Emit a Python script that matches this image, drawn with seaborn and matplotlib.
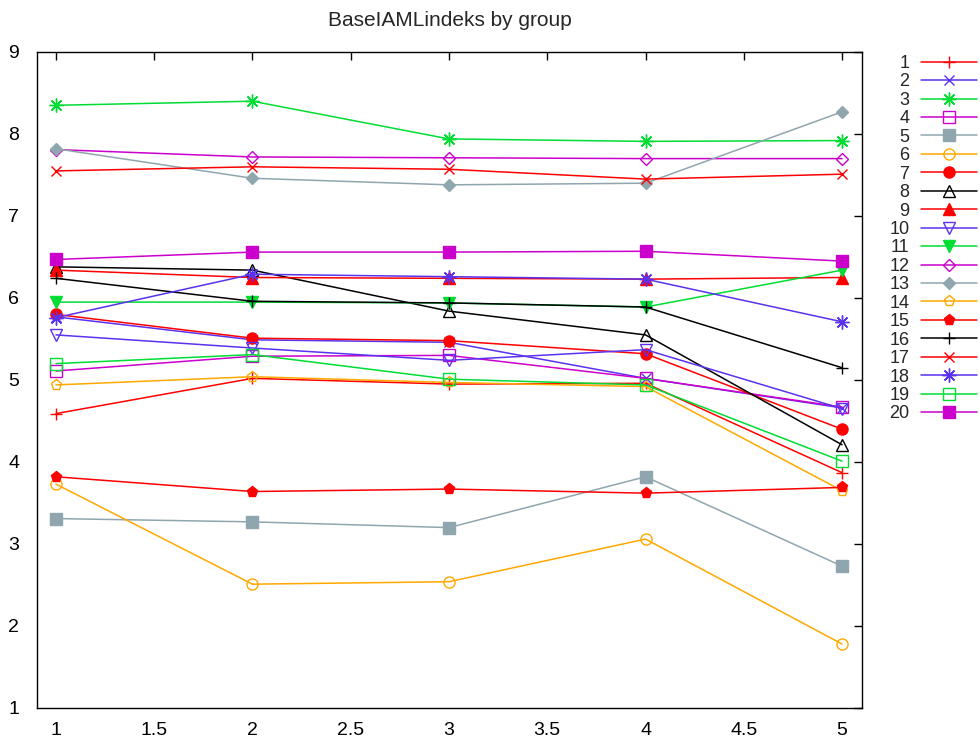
import matplotlib
matplotlib.use("Agg")
import matplotlib.pyplot as plt
import seaborn as sns
import pandas as pd

# ---- data ----
x_points = [1, 2, 3, 4, 5]
group_names = [str(i) for i in range(1, 21)]
g1 = [4.59, 5.02, 4.95, 4.96, 3.87]
g2 = [5.77, 5.49, 5.46, 5.02, 4.66]
g3 = [8.35, 8.40, 7.94, 7.91, 7.92]
g4 = [5.11, 5.29, 5.30, 5.02, 4.67]
g5 = [3.31, 3.27, 3.20, 3.82, 2.73]
g6 = [3.73, 2.51, 2.54, 3.06, 1.78]
g7 = [5.80, 5.51, 5.48, 5.32, 4.40]
g8 = [6.38, 6.34, 5.84, 5.55, 4.21]
g9 = [6.34, 6.25, 6.24, 6.23, 6.25]
g10 = [5.55, 5.39, 5.24, 5.37, 4.65]
g11 = [5.95, 5.95, 5.94, 5.89, 6.34]
g12 = [7.81, 7.72, 7.71, 7.70, 7.70]
g13 = [7.82, 7.46, 7.38, 7.40, 8.27]
g14 = [4.94, 5.04, 4.97, 4.92, 3.65]
g15 = [3.82, 3.64, 3.67, 3.62, 3.69]
g16 = [6.24, 5.96, 5.94, 5.89, 5.15]
g17 = [7.55, 7.60, 7.57, 7.45, 7.51]
g18 = [5.76, 6.29, 6.26, 6.23, 5.71]
g19 = [5.20, 5.31, 5.01, 4.94, 4.01]
g20 = [6.47, 6.56, 6.56, 6.57, 6.45]
series_values = [g1, g2, g3, g4, g5, g6, g7, g8, g9, g10,
                 g11, g12, g13, g14, g15, g16, g17, g18, g19, g20]
x_tick_values = [1, 1.5, 2, 2.5, 3, 3.5, 4, 4.5, 5]
x_tick_labels = ["1", "1.5", "2", "2.5", "3", "3.5", "4", "4.5", "5"]
y_tick_values = [1, 2, 3, 4, 5, 6, 7, 8, 9]
title_text = "BaseIAMLindeks by group"

# ---- styles ----
RED, BLUE, GREEN, MAG, GRAY, ORANGE, BLACK = (
    "#ff0000", "#5a32f0", "#00dd33", "#cc00cc", "#8fa6ae", "#ffa800", "#000000")
color_cycle = [RED, BLUE, GREEN, MAG, GRAY, ORANGE, RED, BLACK]
asterisk = (8, 2, 0)
marker_styles = [
    ("+", "full", 9), ("x", "full", 7), (asterisk, "full", 10), ("s", "none", 8),
    ("s", "full", 8), ("o", "none", 8), ("o", "full", 8), ("^", "none", 8),
    ("^", "full", 8), ("v", "none", 8), ("v", "full", 8), ("D", "none", 6),
    ("D", "full", 6), ("p", "none", 8), ("p", "full", 8), ("+", "full", 9),
    ("x", "full", 7), (asterisk, "full", 10), ("s", "none", 8), ("s", "full", 8),
]

rows = []
for name, vals in zip(group_names, series_values):
    for xv, yv in zip(x_points, vals):
        rows.append({"x": xv, "value": yv, "group": name})
df = pd.DataFrame(rows)

sns.set_style("white")
plt.rcParams["font.family"] = ["Liberation Sans", "DejaVu Sans"]

fig = plt.figure(figsize=(9.8, 7.42), dpi=100)
ax = fig.add_axes([37.3 / 980, 1 - 708 / 742, (861.7 - 37.3) / 980, (708 - 52) / 742])

for i, name in enumerate(group_names):
    col = color_cycle[i % 8]
    mk, fs, ms = marker_styles[i]
    sub = df[df["group"] == name]
    sns.lineplot(data=sub, x="x", y="value", ax=ax, color=col, label=name,
                 marker=mk, fillstyle=fs, markersize=ms,
                 markeredgecolor=col, markerfacecolor=(col if fs == "full" else "none"),
                 markeredgewidth=1.0, linewidth=1.1, estimator=None, sort=False)

ax.set_xlim(0.905, 5.10)
ax.set_ylim(1, 9)
ax.set_xticks(x_tick_values)
ax.set_xticklabels(x_tick_labels)
ax.set_yticks(y_tick_values)
ax.set_xlabel("")
ax.set_ylabel("")
ax.tick_params(direction="in", length=6, width=1, top=True, right=True,
               labelsize=14, colors="black")
ax.tick_params(axis="x", pad=10)
ax.tick_params(axis="y", pad=13)
for sp in ax.spines.values():
    sp.set_visible(True)
    sp.set_color("black")
    sp.set_linewidth(1.0)
ax.grid(False)

fig.text((37.3 + 861.7) / 2 / 980, 1 - 21 / 742, title_text, ha="center", va="center",
         fontsize=15)

leg = ax.legend(loc="upper right", bbox_to_anchor=(977 / 980, 1 - 55 / 742),
                bbox_transform=fig.transFigure, frameon=False, markerfirst=False,
                fontsize=13, labelspacing=0.08, handlelength=3.1, handletextpad=0.65,
                borderpad=0, borderaxespad=0)

fig.savefig("out.png", dpi=100)
